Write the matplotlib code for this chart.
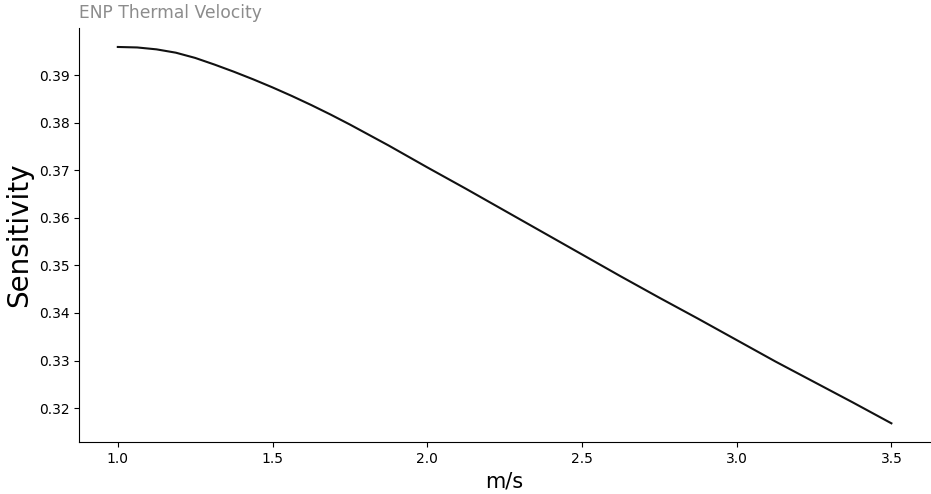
import matplotlib
matplotlib.use("Agg")
import matplotlib.pyplot as plt

# values
velocity = [1.0, 1.0625, 1.125, 1.1875, 1.25, 1.3125, 1.375, 1.4375, 1.5,
            1.5625, 1.625, 1.6875, 1.75, 1.875, 2.0, 2.125, 2.25, 2.375, 2.5,
            2.625, 2.75, 2.875, 3.0, 3.125, 3.25, 3.375, 3.5]
sensitivity = [0.3959, 0.3958, 0.3954, 0.3947, 0.3936, 0.3922, 0.3907, 0.3891, 0.3874,
               0.3856, 0.3837, 0.3817, 0.3796, 0.3752, 0.3706, 0.3661, 0.3615, 0.3569,
               0.3523, 0.3477, 0.3432, 0.3388, 0.3343, 0.3298, 0.3255, 0.3212, 0.3168]

fig = plt.figure(figsize=(9.31, 4.94), dpi=100)
ax = fig.add_axes([0.085, 0.105, 0.914, 0.838])

ax.plot(velocity, sensitivity, color="#111111", linewidth=1.5)

ax.set_title("ENP Thermal Velocity", loc="left", color="#8c8c8c", fontsize=12.3, pad=7)
ax.set_xlabel("m/s", fontsize=15)
ax.set_ylabel("Sensitivity", fontsize=20)
ax.spines["top"].set_visible(False)
ax.spines["right"].set_visible(False)

fig.savefig("out.png", dpi=100)
